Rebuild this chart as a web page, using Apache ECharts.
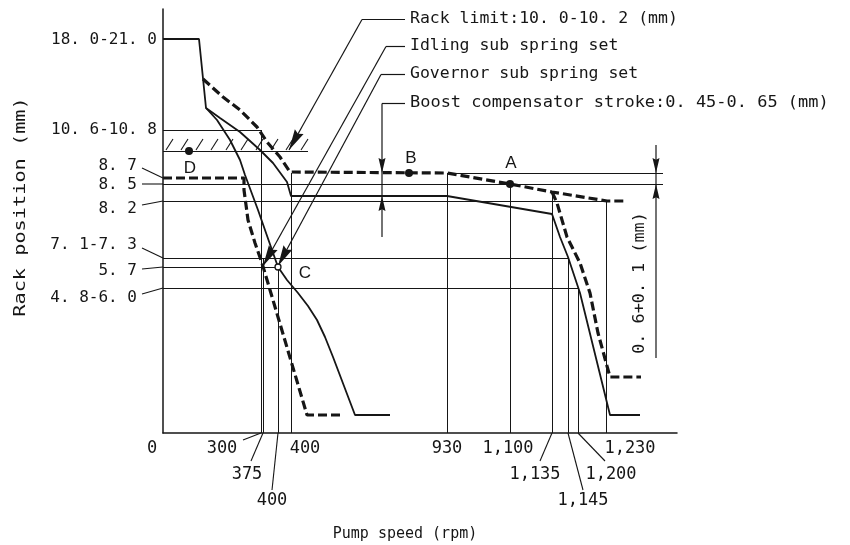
<!DOCTYPE html>
<html><head><meta charset="utf-8">
<script src="https://cdn.jsdelivr.net/npm/echarts@6/dist/echarts.min.js"></script>
<style>html,body{margin:0;padding:0;background:#fff}#c{width:850px;height:545px}</style>
</head><body><div id="c"></div>
<script>
// ===== DATA (schematic diagram units; axes are not to scale) =====
// Pump speed marks (rpm) and their place along the schematic horizontal axis
const speedTicks   = ['0','300','375','400','400','930','1,100','1,135','1,145','1,200','1,230'];
const speedTickPos = [0, 98, 100, 115, 128, 284, 347, 389, 405, 415, 443];
const speedLineTop = [0, 303, 175, 166, 260, 260, 249, 241, 175, 145, 232];

// Rack position marks (mm) and their place along the schematic vertical axis
const rackTicks    = ['18. 0-21. 0','10. 6-10. 8','8. 7','8. 5','8. 2','7. 1-7. 3','5. 7','4. 8-6. 0'];
const rackTickPos  = [394, 303, 255, 249, 232, 175, 166, 145];
const rackLineEnd  = [0, 98, 0, 500, 443, 405, 115, 415];   // 0 = level drawn by a curve itself

// Extra reference levels
const rackLimitLevel = 282, rackLimitEnd = 145;
const boostTopLevel = 260, boostTopFrom = 284, boostTopTo = 500;

// Curves
const fullLoadX = [0, 36, 43, 57, 77, 97, 110, 124, 128, 284, 389, 397, 405, 417, 447, 477];
const fullLoadY = [394, 394, 325, 315, 301, 283, 270, 251, 237, 237, 219, 196, 176, 140, 18, 18];
const subSpringX = [43, 54, 67, 77, 82, 95, 109, 115, 124, 135, 145, 154, 162, 170, 181, 192, 227];
const subSpringY = [325, 313, 293, 273, 258, 223, 183, 166, 153, 140, 127, 113, 96, 76, 47, 18, 18];
const idlingX = [0, 81, 81, 85, 92, 99, 107, 144, 177];
const idlingY = [255, 255, 243, 213, 190, 170, 143, 18, 18];
const boostX = [40, 60, 77, 94, 104, 117, 127, 128, 284, 347, 389, 444, 462];
const boostY = [354, 336, 323, 306, 291, 276, 261, 260, 260, 249, 241, 232, 232];
const boostDropX = [389, 394, 404, 417, 427, 435, 447, 478];
const boostDropY = [241, 230, 196, 170, 140, 100, 56, 56];

// Measuring points
const pointNames = ['D', 'B', 'A', 'C'];
const pointX = [26, 246, 347, 115];
const pointY = [282, 260, 249, 166];

// Call-outs
const noteTexts = ['Rack limit:10. 0-10. 2 (mm)', 'Idling sub spring set', 'Governor sub spring set', 'Boost compensator stroke:0. 45-0. 65 (mm)'];
const noteTextX  = 242;
const noteLevel  = [414, 387, 359, 330];
const noteElbowX = [199, 223, 218, 219];
const noteTipX   = [126, 100, 115, 219];
const noteTipY   = [283, 167, 167, 196];
const boostStroke = [260, 237];          // arrows of boost compensator stroke
const sideDimX = 493, sideDimTop = 288, sideDimBottom = 75, sideDim = [260, 249];
const sideDimText = '0. 6+0. 1 (mm)', sideDimTextPos = [477, 150];
const xTitle = 'Pump speed (rpm)', yTitle = 'Rack position (mm)';

// ===== LAYOUT / STYLE =====
const INK = '#161616';
const MONO = '"DejaVu Sans Mono", "Liberation Mono", monospace';
const SANS = '"Liberation Sans", Arial, sans-serif';
// rack label layout: [gap from axis to text end, text dy, leader start dy]
const rackLabelLayout = [[6, 1, null], [6, 0, null], [26, -12, -10], [26, 1, 0], [26, 8, 4], [26, -13, -10], [26, 4, 2], [26, 10, 6]];
// speed label layout: [text dx, row, leader dx]
const speedLabelLayout = [[-11, 0, null], [-39, 0, -18], [-16, 1, -12], [-6, 2, -6], [14, 0, null], [0, 0, null], [-2, 0, null], [-17, 1, -12], [15, 2, 15], [33, 1, 27], [24, 0, null]];
const rowDy = [16, 42, 68], leaderRowDy = [7, 28, 57];

const zip = (xs, ys) => xs.map((x, i) => [x, ys[i]]);
const snap = v => Math.round(v - 0.5) + 0.5;

function seg(p1, p2, w) {
  return { type: 'line', shape: { x1: p1[0], y1: p1[1], x2: p2[0], y2: p2[1] }, style: { stroke: INK, lineWidth: w || 1, fill: null } };
}
function head(from, tip, L, W) {
  const dx = tip[0] - from[0], dy = tip[1] - from[1];
  const len = Math.hypot(dx, dy), ux = dx / len, uy = dy / len;
  const bx = tip[0] - ux * L, by = tip[1] - uy * L;
  const nx = tip[0] - ux * L * 0.88, ny = tip[1] - uy * L * 0.88;
  return { type: 'polygon', shape: { points: [tip, [bx - uy * W, by + ux * W], [nx, ny], [bx + uy * W, by - ux * W]] }, style: { fill: INK } };
}
function txt(x, y, text, font, align, extra) {
  return Object.assign({ type: 'text', x: x, y: y,
    style: { text: text, fill: INK, font: font, align: align, textAlign: align, verticalAlign: 'middle', textVerticalAlign: 'middle' } }, extra || {});
}

// guide segments built from the arrays
const guides = [];
speedTickPos.forEach((p, i) => { if (i > 0) guides.push([p, 0, p, speedLineTop[i]]); });
rackTickPos.forEach((p, i) => { if (rackLineEnd[i] > 0) guides.push([0, p, rackLineEnd[i], p]); });
guides.push([0, rackLimitLevel, rackLimitEnd, rackLimitLevel]);
guides.push([boostTopFrom, boostTopLevel, boostTopTo, boostTopLevel]);

function renderDecor(params, api) {
  const c = v => api.coord(v);
  const kids = [];
  const o = c([0, 0]);
  // hatching above rack limit
  const hs = c([3, rackLimitLevel]), he = c([rackLimitEnd - 6, rackLimitLevel]);
  for (let x = hs[0]; x <= he[0]; x += 15) kids.push(seg([x, hs[1] - 1], [x + 7, hs[1] - 12], 1.1));
  // rack labels
  rackTicks.forEach((t, i) => {
    const p = c([0, rackTickPos[i]]);
    const L = rackLabelLayout[i];
    kids.push(txt(o[0] - L[0], p[1] + L[1], t, '16px ' + MONO, 'right'));
    if (L[2] !== null) kids.push(seg([o[0] - 21, p[1] + L[2]], [o[0], p[1]], 1.1));
  });
  // speed labels
  speedTicks.forEach((t, i) => {
    const p = c([speedTickPos[i], 0]);
    const L = speedLabelLayout[i];
    kids.push(txt(p[0] + L[0], o[1] + rowDy[L[1]], t, '17px ' + MONO, 'center'));
    if (L[2] !== null) kids.push(seg([p[0] + L[2], o[1] + leaderRowDy[L[1]]], [p[0], o[1]], 1.1));
  });
  // call-outs
  noteTexts.forEach((t, i) => {
    const a = c([noteTextX, noteLevel[i]]), e = c([noteElbowX[i], noteLevel[i]]), tip = c([noteTipX[i], noteTipY[i]]);
    kids.push(txt(a[0] + 5, a[1], t, '16px ' + MONO, 'left', { scaleX: i === 3 ? 1.06 : 1.03 }));
    kids.push(seg([a[0], snap(a[1])], [e[0], snap(e[1])], 1.2));
    kids.push(seg([e[0], snap(e[1])], tip, 1.2));
    if (i < 3) kids.push(head(e, tip, 21, 5));
  });
  // boost stroke arrows
  const bx = noteElbowX[3];
  kids.push(head(c([bx, boostStroke[0] + 20]), c([bx, boostStroke[0]]), 15, 3.5));
  kids.push(head(c([bx, boostStroke[1] - 20]), c([bx, boostStroke[1]]), 15, 3.5));
  // side dimension
  kids.push(seg(c([sideDimX, sideDimTop]), c([sideDimX, sideDimBottom]), 1.2));
  kids.push(head(c([sideDimX, sideDim[0] + 20]), c([sideDimX, sideDim[0]]), 15, 3.5));
  kids.push(head(c([sideDimX, sideDim[1] - 20]), c([sideDimX, sideDim[1]]), 15, 3.5));
  const sp = c(sideDimTextPos);
  kids.push(txt(sp[0], sp[1], sideDimText, '16px ' + MONO, 'center', { rotation: Math.PI / 2, scaleX: 1.05 }));
  return { type: 'group', children: kids };
}

function renderGuide(params, api) {
  const a = api.coord([api.value(0), api.value(1)]), b = api.coord([api.value(2), api.value(3)]);
  if (Math.abs(a[0] - b[0]) < 0.01) { a[0] = b[0] = snap(a[0]); } else { a[1] = b[1] = snap(a[1]); }
  return seg(a, b, 1);
}

const solid = { color: INK, width: 1.8 };
const dashed = { color: INK, width: 3.2, type: [9, 4] };
const labelOffsets = { D: [1, 17], B: [2, -15], A: [1, -21], C: [27, 6] };

const chart = echarts.init(document.getElementById('c'), null, { renderer: 'canvas' });
chart.setOption({
  animation: false,
  backgroundColor: '#fff',
  grid: { left: 163, top: 9, width: 514, height: 424 },
  xAxis: { type: 'value', min: 0, max: 514, axisLine: { lineStyle: { color: INK, width: 1.5 } }, axisTick: { show: false }, axisLabel: { show: false }, splitLine: { show: false } },
  yAxis: { type: 'value', min: 0, max: 424, axisLine: { show: true, lineStyle: { color: INK, width: 1.5 } }, axisTick: { show: false }, axisLabel: { show: false }, splitLine: { show: false } },
  graphic: [
    { type: 'text', x: 405, y: 534, style: { text: xTitle, font: '15px ' + MONO, fill: INK, align: 'center', verticalAlign: 'middle' } },
    { type: 'text', x: 21, y: 207, rotation: Math.PI / 2, scaleX: 1.35, style: { text: yTitle, font: '15px ' + MONO, fill: INK, align: 'center', verticalAlign: 'middle' } }
  ],
  series: [
    { type: 'custom', name: 'guides', silent: true, renderItem: renderGuide, data: guides, encode: { x: [0, 2], y: [1, 3] } },
    { type: 'line', name: 'full load', data: zip(fullLoadX, fullLoadY), symbol: 'none', lineStyle: solid, silent: true },
    { type: 'line', name: 'sub spring', data: zip(subSpringX, subSpringY), symbol: 'none', lineStyle: solid, silent: true },
    { type: 'line', name: 'idling', data: zip(idlingX, idlingY), symbol: 'none', lineStyle: dashed, silent: true },
    { type: 'line', name: 'boost', data: zip(boostX, boostY), symbol: 'none', lineStyle: dashed, silent: true },
    { type: 'line', name: 'boost drop', data: zip(boostDropX, boostDropY), symbol: 'none', lineStyle: dashed, silent: true },
    { type: 'custom', name: 'decor', silent: true, renderItem: renderDecor, data: [[0, 0]] },
    { type: 'scatter', name: 'points', silent: true, z: 5,
      itemStyle: { opacity: 1 },
      data: pointNames.map((n, i) => ({
        name: n, value: [pointX[i], pointY[i]],
        symbolSize: n === 'C' ? 6 : 8,
        itemStyle: n === 'C' ? { color: '#fff', borderColor: INK, borderWidth: 1.3, opacity: 1 } : { color: INK, opacity: 1 },
        label: { show: true, formatter: n, offset: labelOffsets[n], position: 'inside', color: INK, opacity: 1, fontFamily: SANS, fontSize: 17 }
      })) }
  ]
});
</script></body></html>
